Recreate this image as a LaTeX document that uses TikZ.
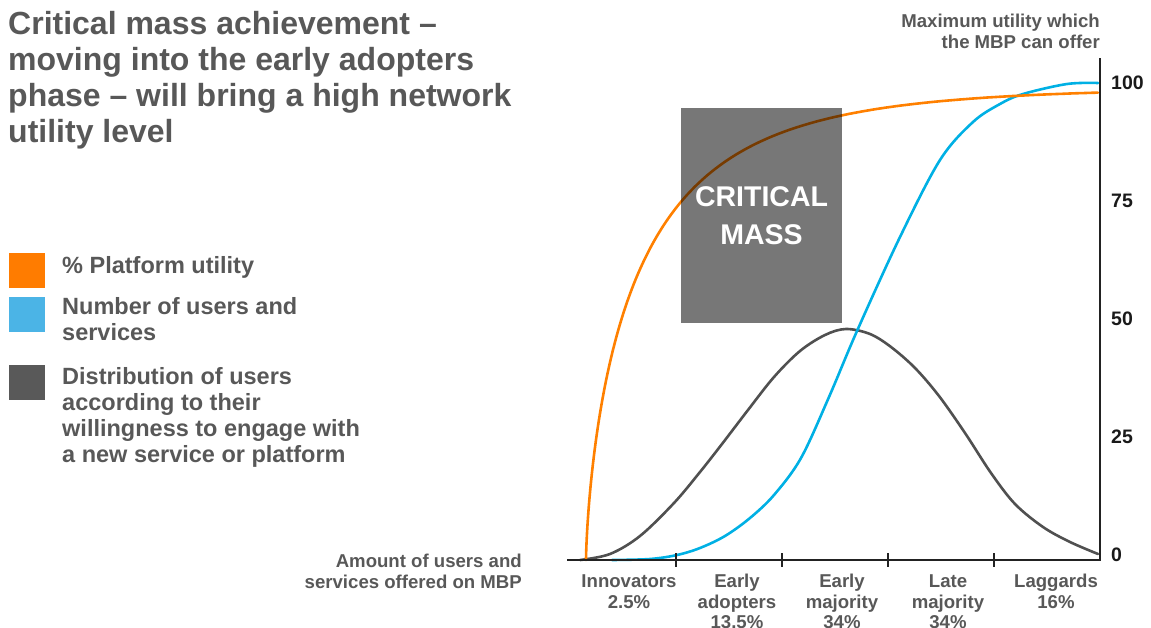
\documentclass[tikz,border=0pt]{standalone}
\usepackage{fontspec}
\setmainfont{Liberation Sans}
\definecolor{txtgray}{RGB}{88,88,88}
\definecolor{numblack}{RGB}{26,26,26}
\definecolor{orangec}{RGB}{255,128,0}
\definecolor{orangesq}{RGB}{255,124,0}
\definecolor{bluec}{RGB}{0,176,228}
\definecolor{bluesq}{RGB}{75,180,230}
\definecolor{darksq}{RGB}{89,89,89}
\definecolor{bellc}{RGB}{80,80,80}
\definecolor{axisc}{RGB}{34,34,34}
\tikzset{
  titletxt/.style={text=txtgray, inner sep=0pt, anchor=base west, font=\fontsize{32}{36}\selectfont\bfseries},
  legtxt/.style={text=txtgray, inner sep=0pt, anchor=base west, font=\fontsize{23.5}{27}\selectfont\bfseries},
  smalltxt/.style={text=txtgray, inner sep=0pt, font=\fontsize{18.6}{21}\selectfont\bfseries},
  numtxt/.style={text=numblack, inner sep=0pt, anchor=base west, font=\fontsize{19.5}{22}\selectfont\bfseries},
  curve/.style={line width=2.6pt, line cap=round, line join=round},
  axisline/.style={draw=axisc, line width=2.4pt},
  tickline/.style={draw=axisc, line width=1.3pt},
  legsq/.style={minimum width=36pt, minimum height=35pt, inner sep=0pt, anchor=north west},
}
\begin{document}
\begin{tikzpicture}[x=1pt,y=-1pt]
\useasboundingbox (0,0) rectangle (1151,628);
% Title
\node[titletxt] (title1) at (8,35) {Critical mass achievement –};
\node[titletxt] (title2) at (8,71) {moving into the early adopters};
\node[titletxt] (title3) at (8,107) {phase – will bring a high network};
\node[titletxt] (title4) at (8,143) {utility level};
% Legend
\node[legsq, fill=orangesq] (sqo) at (9,253) {};
\node[legsq, fill=bluesq] (sqb) at (9,297) {};
\node[legsq, fill=darksq] (sqd) at (9,365) {};
\node[legtxt] (lo1) at (62,273.5) {\% Platform utility};
\node[legtxt] (lb1) at (62,315) {Number of users and};
\node[legtxt] (lb2) at (62,341) {services};
\node[legtxt] (ld1) at (62,384) {Distribution of users};
\node[legtxt] (ld2) at (62,410) {according to their};
\node[legtxt] (ld3) at (62,436) {willingness to engage with};
\node[legtxt] (ld4) at (62,462) {a new service or platform};
% Curves
\draw[curve, draw=bellc] plot[smooth, tension=0.55] coordinates {
 (580,560) (610,554) (640,536) (674,503) (700,472) (722,444) (748,410) (774,377)
 (800,351) (825,335) (846,329) (870,334) (891,347) (915,368) (939,396) (965,433)
 (991,473) (1015,504) (1043,527) (1070,542) (1098,554)};
\draw[curve, draw=bluec] plot[smooth, tension=0.55] coordinates {
 (612,560) (650,559) (677,555) (700,548) (725,536) (750,518) (774,495) (801,458)
 (829,397) (857,331) (900,237) (940,160) (973,122) (1000,104) (1023,94) (1067,84) (1098,83)};
\draw[curve, draw=orangec] (586,560) -- plot[domain=0.05:8, samples=220, variable=\t]
  ({586+\t*\t*\t}, {560-472*(1-exp(-0.0587*(\t)^2.1))});
% Critical mass box
\fill[black, fill opacity=0.533] (681,108) rectangle (842,323);
\node[inner sep=0pt, text=white, font=\fontsize{28.5}{38}\selectfont\bfseries, anchor=base] (cm1) at (761.5,207) {CRITICAL};
\node[inner sep=0pt, text=white, font=\fontsize{28.5}{38}\selectfont\bfseries, anchor=base] (cm2) at (761.5,245) {MASS};
% Axes
\coordinate (xo) at (567,560);
\coordinate (corner) at (1100,560);
\coordinate (ytop) at (1100,58);
\draw[axisline] (xo) -- (corner) -- (ytop);
\foreach \tx in {676,782,888,994} {
  \draw[tickline] (\tx,553) -- (\tx,567);
}
% Y numbers
\node[numtxt] (n100) at (1111,90) {100};
\node[numtxt] (n75) at (1111,207.75) {75};
\node[numtxt] (n50) at (1111,325.5) {50};
\node[numtxt] (n25) at (1111,443.25) {25};
\node[numtxt] (n0) at (1111,561) {0};
% Axis titles
\node[smalltxt, anchor=base east] (my1) at (1100,28) {Maximum utility which};
\node[smalltxt, anchor=base east] (my2) at (1100,49) {the MBP can offer};
\node[smalltxt, anchor=base east] (mx1) at (522,567.5) {Amount of users and};
\node[smalltxt, anchor=base east] (mx2) at (522,588) {services offered on MBP};
% Category labels
\node[smalltxt, anchor=base] (c1a) at (629,587.5) {Innovators};
\node[smalltxt, anchor=base] (c1b) at (629,608) {2.5\%};
\node[smalltxt, anchor=base] (c2a) at (737,587.5) {Early};
\node[smalltxt, anchor=base] (c2b) at (737,608) {adopters};
\node[smalltxt, anchor=base] (c2c) at (737,628.5) {13.5\%};
\node[smalltxt, anchor=base] (c3a) at (842,587.5) {Early};
\node[smalltxt, anchor=base] (c3b) at (842,608) {majority};
\node[smalltxt, anchor=base] (c3c) at (842,628.5) {34\%};
\node[smalltxt, anchor=base] (c4a) at (948,587.5) {Late};
\node[smalltxt, anchor=base] (c4b) at (948,608) {majority};
\node[smalltxt, anchor=base] (c4c) at (948,628.5) {34\%};
\node[smalltxt, anchor=base] (c5a) at (1056,587.5) {Laggards};
\node[smalltxt, anchor=base] (c5b) at (1056,608) {16\%};
\end{tikzpicture}
\end{document}
